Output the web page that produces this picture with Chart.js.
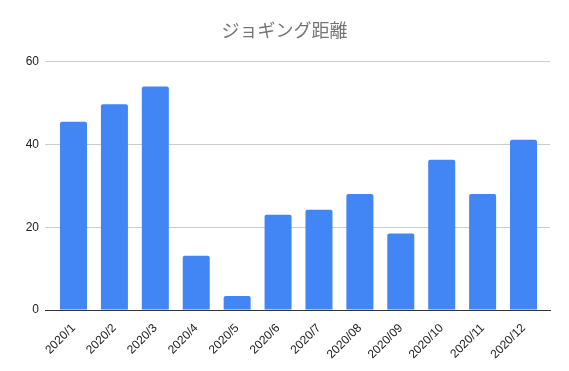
<!DOCTYPE html>
<html>
<head>
<meta charset="utf-8">
<script src="https://cdn.jsdelivr.net/npm/chart.js@4"></script>
<style>
  html, body { margin: 0; padding: 0; background: #fff; }
  #wrap { width: 569px; height: 371px; }
</style>
</head>
<body>
<div id="wrap"><canvas id="barChart" width="569" height="371"></canvas></div>
<script>
// months and distances
const months = ["2020/1", "2020/2", "2020/3", "2020/4", "2020/5", "2020/6",
                "2020/7", "2020/08", "2020/09", "2020/10", "2020/11", "2020/12"];
const distances = [45.5, 49.7, 54, 13.1, 3.4, 23, 24.2, 28, 18.5, 36.3, 28, 41.1];
const yTicks = [0, 20, 40, 60];

document.addEventListener("DOMContentLoaded", function() {
    const ctx = document.getElementById("barChart").getContext('2d');

    new Chart(ctx, {
        type: 'bar',
        data: {
            labels: months,
            datasets: [{
                label: "距離",
                data: distances,
                backgroundColor: '#4285f4',
                borderRadius: { topLeft: 2, topRight: 2 },
                borderSkipped: 'bottom',
                categoryPercentage: 1,
                barPercentage: 0.66
            }]
        },
        options: {
            responsive: false,
            animation: false,
            layout: { padding: 0 },
            plugins: {
                legend: { display: false },
                tooltip: { enabled: false },
                title: {
                    display: true,
                    text: "ジョギング距離",
                    color: '#757575',
                    font: { family: "'Noto Sans CJK JP', sans-serif", size: 18, weight: 'normal' },
                    padding: { top: 19, bottom: 21 }
                }
            },
            scales: {
                x: {
                    grid: { display: false },
                    border: { display: true, color: '#333333', width: 1 },
                    ticks: {
                        color: '#222222',
                        font: { family: "'Liberation Sans', Arial, sans-serif", size: 12 },
                        minRotation: 45,
                        maxRotation: 45,
                        padding: 3
                    },
                    afterBuildTicks: function(scale) {
                        // the axis runs a little past the first and last bar
                        scale._startValue = -0.697;
                        scale._valueRange = 12.344;
                    },
                    afterFit: function(scale) { scale.height = 61; }
                },
                y: {
                    min: 0,
                    max: 60,
                    afterBuildTicks: function(scale) {
                        scale.ticks = yTicks.map(v => ({ value: v }));
                    },
                    grid: { color: '#cccccc', drawTicks: false },
                    border: { display: false },
                    ticks: {
                        color: '#222222',
                        font: { family: "'Liberation Sans', Arial, sans-serif", size: 12 },
                        padding: 6
                    },
                    afterFit: function(scale) { scale.width = 45; }
                },
                // empty right margin so the title stays centred on the page
                yRight: {
                    position: 'right',
                    display: true,
                    grid: { display: false },
                    border: { display: false },
                    ticks: { display: false },
                    afterFit: function(scale) { scale.width = 19; }
                }
            }
        }
    });
});
</script>
</body>
</html>
